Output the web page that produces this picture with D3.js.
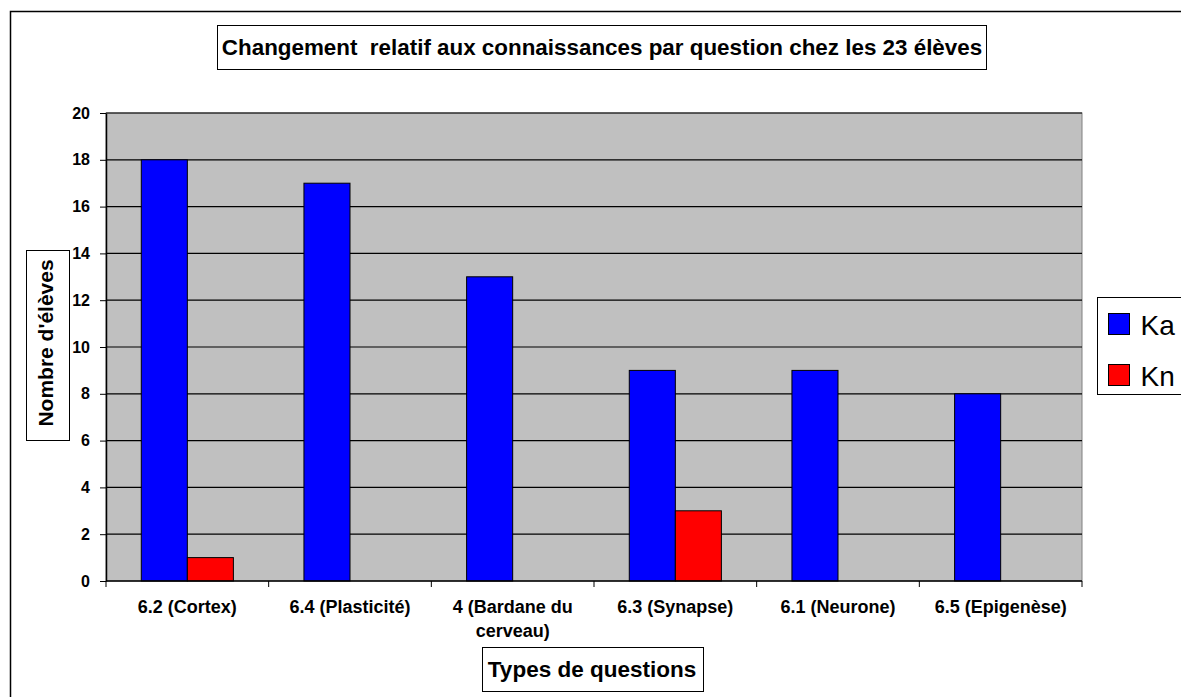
<!DOCTYPE html>
<html>
<head>
<meta charset="utf-8">
<script src="https://cdn.jsdelivr.net/npm/d3@7"></script>
<style>
  body { margin: 0; background: #fff; }
  svg { display: block; font-family: Arial, "Liberation Sans", sans-serif; }
</style>
</head>
<body>
<svg id="chart"></svg>
<script>
// chart data
const categories = ["6.2 (Cortex)", "6.4 (Plasticité)", "4 (Bardane du cerveau)", "6.3 (Synapse)", "6.1 (Neurone)", "6.5 (Epigenèse)"];
const seriesNames = ["Ka", "Kn"];
const kaValues = [18, 17, 13, 9, 9, 8];
const knValues = [1, 0, 0, 3, 0, 0];
const yTicks = [0, 2, 4, 6, 8, 10, 12, 14, 16, 18, 20];
const colors = ["#0000ff", "#ff0000"];

const width = 1181, height = 697;
const plot = { left: 106, right: 1082, top: 113, bottom: 581 };

const svg = d3.select("#chart").attr("width", width).attr("height", height);

// outer frame
svg.append("rect")
  .attr("x", 10.5).attr("y", 11.5)
  .attr("width", 1200).attr("height", 700)
  .attr("fill", "#fff").attr("stroke", "#000").attr("stroke-width", 1.5);

// scales
const x = d3.scaleBand().domain(categories).range([plot.left, plot.right]);
const xInner = d3.scaleBand().domain(seriesNames)
  .range([0, x.bandwidth()]).paddingOuter(0.766);
const y = d3.scaleLinear().domain([0, 20]).range([plot.bottom, plot.top]);

// plot background
svg.append("rect")
  .attr("x", plot.left).attr("y", plot.top)
  .attr("width", plot.right - plot.left).attr("height", plot.bottom - plot.top)
  .attr("fill", "#c0c0c0").attr("stroke", "#808080");

// gridlines
svg.append("g")
  .selectAll("line")
  .data(yTicks.filter(d => d > 0))
  .enter()
  .append("line")
    .attr("x1", plot.left).attr("x2", plot.right)
    .attr("y1", d => y(d)).attr("y2", d => y(d))
    .attr("stroke", "#000").attr("stroke-width", 1.2);

// bars
const rows = categories.map((c, i) => ({ cat: c, values: [kaValues[i], knValues[i]] }));
svg.append("g")
  .selectAll("g")
  .data(rows)
  .enter()
  .append("g")
    .attr("transform", d => `translate(${x(d.cat)},0)`)
  .selectAll("rect")
  .data(d => d.values.map((v, j) => ({ name: seriesNames[j], value: v, color: colors[j] })))
  .enter()
  .append("rect")
    .attr("x", d => xInner(d.name))
    .attr("y", d => y(d.value))
    .attr("width", xInner.bandwidth())
    .attr("height", d => y(0) - y(d.value))
    .attr("fill", d => d.color)
    .attr("stroke", d => d.value > 0 ? "#000" : "none")
    .attr("stroke-width", 1);

// y axis
const yAxis = d3.axisLeft(y).tickValues(yTicks).tickSize(6).tickSizeOuter(0).tickPadding(10);
const gy = svg.append("g").attr("transform", `translate(${plot.left},0)`).call(yAxis);
gy.attr("font-family", null).attr("font-size", null);
gy.select(".domain").attr("stroke", "#000").attr("stroke-width", 1.5);
gy.selectAll("text").style("font-size", "16px").style("font-weight", "bold").attr("fill", "#000");

// x axis
const tickPositions = d3.range(categories.length + 1).map(i => plot.left + i * x.step());
const gx = svg.append("g");
gx.append("line")
  .attr("x1", plot.left).attr("x2", plot.right)
  .attr("y1", plot.bottom).attr("y2", plot.bottom)
  .attr("stroke", "#000").attr("stroke-width", 1.5);
gx.selectAll(".tick")
  .data(tickPositions)
  .enter()
  .append("line")
    .attr("x1", d => d).attr("x2", d => d)
    .attr("y1", plot.bottom).attr("y2", plot.bottom + 6)
    .attr("stroke", "#000");

const xLabels = gx.selectAll(".xl")
  .data(categories)
  .enter()
  .append("text")
    .attr("text-anchor", "middle")
    .style("font-size", "18px").style("font-weight", "bold")
    .attr("transform", d => `translate(${x(d) + x.bandwidth() / 2},${plot.bottom + 32})`);
xLabels.each(function(d) {
  const parts = d === "4 (Bardane du cerveau)" ? ["4 (Bardane du", "cerveau)"] : [d];
  d3.select(this).selectAll("tspan")
    .data(parts)
    .enter()
    .append("tspan")
      .attr("x", 0)
      .attr("dy", (p, i) => i === 0 ? 0 : 24)
      .text(p => p);
});

// title box
svg.append("rect")
  .attr("x", 217.5).attr("y", 25.5).attr("width", 769).attr("height", 44)
  .attr("fill", "#fff").attr("stroke", "#000");
svg.append("text")
  .attr("x", 602).attr("y", 55)
  .attr("text-anchor", "middle")
  .style("font-size", "22.4px").style("font-weight", "bold")
  .style("white-space", "pre")
  .text("Changement  relatif aux connaissances par question chez les 23 élèves");

// y axis title
svg.append("rect")
  .attr("x", 26.5).attr("y", 250.5).attr("width", 43).attr("height", 190)
  .attr("fill", "#fff").attr("stroke", "#000");
svg.append("text")
  .attr("transform", "translate(53,343) rotate(-90)")
  .attr("text-anchor", "middle")
  .style("font-size", "21px").style("font-weight", "bold")
  .text("Nombre d'élèves");

// x axis title
svg.append("rect")
  .attr("x", 482.5).attr("y", 647.5).attr("width", 221).attr("height", 44)
  .attr("fill", "#fff").attr("stroke", "#000");
svg.append("text")
  .attr("x", 592).attr("y", 677)
  .attr("text-anchor", "middle")
  .style("font-size", "22.5px").style("font-weight", "bold")
  .text("Types de questions");

// legend
const legend = svg.append("g").attr("id", "legend");
legend.append("rect")
  .attr("x", 1097.5).attr("y", 297.5).attr("width", 120).attr("height", 97)
  .attr("fill", "#fff").attr("stroke", "#000");
const items = legend.selectAll(".item")
  .data(seriesNames)
  .enter()
  .append("g")
    .attr("transform", (d, i) => `translate(1108.5,${313.5 + i * 51})`);
items.append("rect")
  .attr("width", 21).attr("height", 21)
  .attr("fill", (d, i) => colors[i]).attr("stroke", "#000");
items.append("text")
  .attr("x", 32).attr("y", 21.5)
  .style("font-size", "28px")
  .text(d => d);
</script>
</body>
</html>
